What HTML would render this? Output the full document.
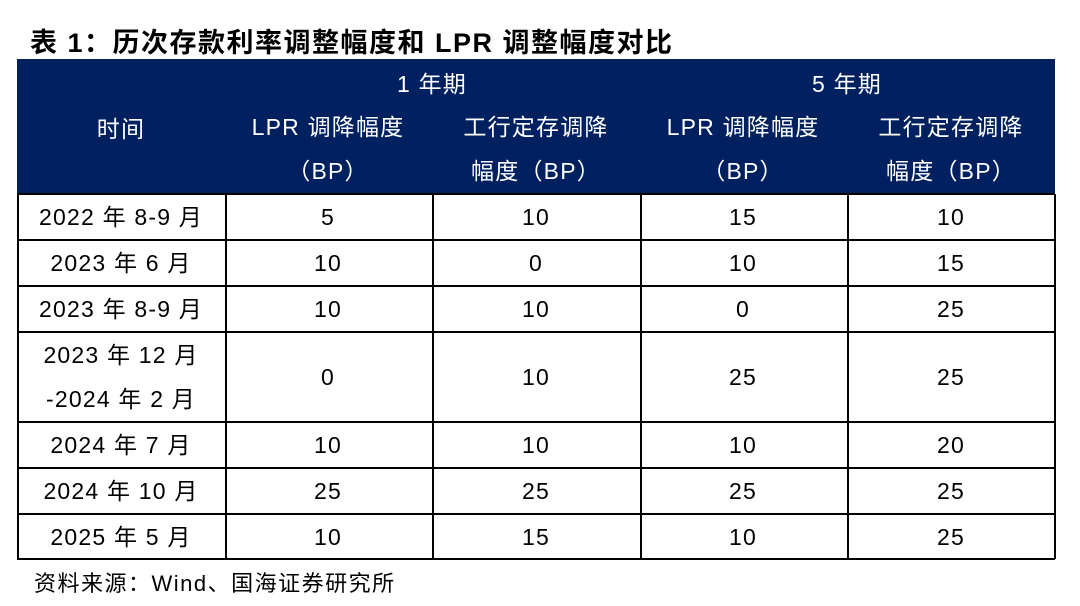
<!DOCTYPE html>
<html><head><meta charset="utf-8"><style>
body{margin:0;width:1080px;height:606px;background:#fff;position:relative;font-family:"Liberation Sans","Noto Sans CJK SC",sans-serif;overflow:hidden}
.t{position:absolute;white-space:nowrap;text-align:center;transform:translate(-50%,-50%);font-size:23px;letter-spacing:1.2px;color:#000}
.h{color:#fff}
#title{position:absolute;left:30px;top:21px;font-size:27px;letter-spacing:1.5px;font-weight:bold;color:#000}
#hdr{position:absolute;left:17px;top:59px;width:1038px;height:135px;background:#002060}
.hl{position:absolute;height:1.5px;background:#000;left:17px;width:1038px}
.vl{position:absolute;width:1.5px;background:#000;top:194px;height:365px}
#src{position:absolute;left:34px;top:566px;font-size:22px;letter-spacing:1.5px;color:#000}
</style></head><body>
<div id="title">表 1：历次存款利率调整幅度和 LPR 调整幅度对比</div>
<div id="hdr"></div>
<div class="t h" style="left:432px;top:82px">1 年期</div>
<div class="t h" style="left:847px;top:82px">5 年期</div>
<div class="t h" style="left:121px;top:127px">时间</div>
<div class="t h" style="left:328px;top:149px;line-height:44px">LPR 调降幅度<br>（BP）</div>
<div class="t h" style="left:536px;top:149px;line-height:44px">工行定存调降<br>幅度（BP）</div>
<div class="t h" style="left:743px;top:149px;line-height:44px">LPR 调降幅度<br>（BP）</div>
<div class="t h" style="left:951px;top:149px;line-height:44px">工行定存调降<br>幅度（BP）</div>
<div id="body"></div>
<div id="src">资料来源：Wind、国海证券研究所</div>
<script>
const rowsLabel=["2022 年 8-9 月","2023 年 6 月","2023 年 8-9 月","2023 年 12 月<br>-2024 年 2 月","2024 年 7 月","2024 年 10 月","2025 年 5 月"];
const lpr1=[5,10,10,0,10,25,10];
const icbc1=[10,0,10,10,10,25,15];
const lpr5=[15,10,0,25,10,25,10];
const icbc5=[10,15,25,25,20,25,25];
const ys=[194,240,286,332,422,468,514,559];
const cx=[121,328,536,743,951];
const b=document.getElementById('body');
ys.forEach((y,i)=>{const l=document.createElement('div');l.className='hl';l.style.top=(y-0.75)+'px';


b.appendChild(l);});
[17,225,432,640,847,1054].forEach(x=>{const v=document.createElement('div');v.className='vl';v.style.left=x+'px';


b.appendChild(v);});
rowsLabel.forEach((lab,i)=>{const yc=(ys[i]+ys[i+1])/2;const vals=[lab,lpr1[i],icbc1[i],lpr5[i],icbc5[i]];
vals.forEach((v,j)=>{const d=document.createElement('div');d.className='t';d.style.left=cx[j]+'px';d.style.top=yc+'px';d.style.lineHeight='44px';d.innerHTML=v;


b.appendChild(d);});});
</script>
</body></html>
